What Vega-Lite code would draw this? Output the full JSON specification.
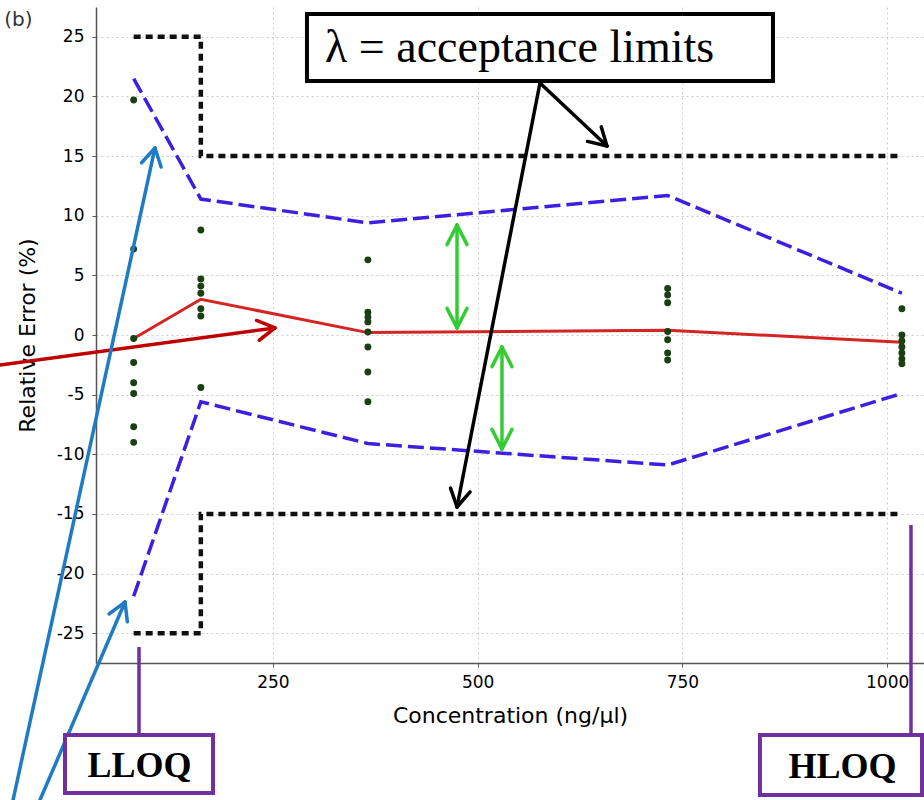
{
  "$schema": "https://vega.github.io/schema/vega-lite/v6.json",
  "width": 828,
  "height": 656,
  "autosize": {"type": "none"},
  "padding": {"left": 96, "top": 7, "right": 0, "bottom": 137},
  "background": "white",
  "config": {"view": {"stroke": null}},
  "datasets": {
    "points": [
      {"conc": 80, "err": 19.7}, {"conc": 80, "err": 7.2}, {"conc": 80, "err": -0.3}, {"conc": 80, "err": -2.3},
      {"conc": 80, "err": -4.0}, {"conc": 80, "err": -4.9}, {"conc": 80, "err": -7.7}, {"conc": 80, "err": -9.0},
      {"conc": 162, "err": 8.8}, {"conc": 162, "err": 4.7}, {"conc": 162, "err": 4.1}, {"conc": 162, "err": 3.5},
      {"conc": 162, "err": 2.2}, {"conc": 162, "err": 1.6}, {"conc": 162, "err": -4.4},
      {"conc": 366, "err": 6.3}, {"conc": 366, "err": 1.9}, {"conc": 366, "err": 1.5}, {"conc": 366, "err": 1.1},
      {"conc": 366, "err": 0.25}, {"conc": 366, "err": -1.0}, {"conc": 366, "err": -3.1}, {"conc": 366, "err": -5.6},
      {"conc": 732, "err": 3.9}, {"conc": 732, "err": 3.35}, {"conc": 732, "err": 2.7}, {"conc": 732, "err": 0.3},
      {"conc": 732, "err": -0.4}, {"conc": 732, "err": -1.5}, {"conc": 732, "err": -2.1},
      {"conc": 1018, "err": 2.2}, {"conc": 1018, "err": 0.0}, {"conc": 1018, "err": -0.5}, {"conc": 1018, "err": -1.0},
      {"conc": 1018, "err": -1.5}, {"conc": 1018, "err": -2.0}, {"conc": 1018, "err": -2.4}
    ],
    "profile": [
      {"conc": 80, "mean": -0.3, "lo": -21.9, "hi": 21.5, "lamLo": -25, "lamHi": 25},
      {"conc": 162, "mean": 3.0, "lo": -5.6, "hi": 11.4, "lamLo": -15, "lamHi": 15},
      {"conc": 366, "mean": 0.2, "lo": -9.1, "hi": 9.4, "lamLo": -15, "lamHi": 15},
      {"conc": 732, "mean": 0.4, "lo": -10.9, "hi": 11.7, "lamLo": -15, "lamHi": 15},
      {"conc": 1018, "mean": -0.6, "lo": -4.9, "hi": 3.5, "lamLo": -15, "lamHi": 15}
    ],
    "blackArrows": [
      {"x": 576.1, "y": 21.13, "x2": 657.9, "y2": 15.85},
      {"x": 657.9, "y": 15.85, "x2": 650.9, "y2": 17.45},
      {"x": 657.9, "y": 15.85, "x2": 634.1, "y2": 16.23},
      {"x": 576.1, "y": 21.13, "x2": 474.8, "y2": -14.42},
      {"x": 474.8, "y": -14.42, "x2": 490.8, "y2": -13.16},
      {"x": 474.8, "y": -14.42, "x2": 466.9, "y2": -12.84}
    ],
    "redArrows": [
      {"x": -83.2, "y": -2.52, "x2": 252.6, "y2": 0.59},
      {"x": 252.6, "y": 0.59, "x2": 230.0, "y2": 1.22},
      {"x": 252.6, "y": 0.59, "x2": 233.3, "y2": -0.44}
    ],
    "blueArrows": [
      {"x": -67.3, "y": -38.99, "x2": 106.0, "y2": 15.68},
      {"x": 106.0, "y": 15.68, "x2": 89.6, "y2": 14.44},
      {"x": 106.0, "y": 15.68, "x2": 113.5, "y2": 14.08},
      {"x": -34.4, "y": -38.99, "x2": 69.4, "y2": -22.39},
      {"x": 69.4, "y": -22.39, "x2": 49.9, "y2": -23.39},
      {"x": 69.4, "y": -22.39, "x2": 72.3, "y2": -24.05}
    ],
    "greenArrows": [
      {"x": 474.8, "y": 9.22, "x2": 474.8, "y2": 0.59},
      {"x": 474.8, "y": 9.22, "x2": 462.6, "y2": 7.58},
      {"x": 474.8, "y": 9.22, "x2": 487.0, "y2": 7.58},
      {"x": 474.8, "y": 0.59, "x2": 462.6, "y2": 2.23},
      {"x": 474.8, "y": 0.59, "x2": 487.0, "y2": 2.23},
      {"x": 529.7, "y": -1.01, "x2": 529.7, "y2": -9.56},
      {"x": 529.7, "y": -1.01, "x2": 517.5, "y2": -2.65},
      {"x": 529.7, "y": -1.01, "x2": 541.9, "y2": -2.65},
      {"x": 529.7, "y": -9.56, "x2": 517.5, "y2": -7.91},
      {"x": 529.7, "y": -9.56, "x2": 541.9, "y2": -7.91}
    ],
    "purpleLines": [
      {"x": 86.5, "y": -26.16, "x2": 86.5, "y2": -33.54},
      {"x": 1029.1, "y": -15.93, "x2": 1029.1, "y2": -33.54}
    ],
    "lambdaBox": [
      {"x": 291.6, "y": 26.91, "x2": 860.6, "y2": 21.30}
    ],
    "qBoxes": [
      {"x": -3.85, "y": -33.54, "x2": 176.9, "y2": -38.40},
      {"x": 844.7, "y": -33.54, "x2": 1042.6, "y2": -38.57}
    ],
    "serifLabel": [
      {"x": 313.6, "y": 22.89, "text": "λ = acceptance limits"}
    ],
    "boldLabels": [
      {"x": 87.1, "y": -37.06, "text": "LLOQ"},
      {"x": 945.5, "y": -37.14, "text": "HLOQ"}
    ],
    "panelLabel": [
      {"x": -78.0, "y": 25.9, "text": "(b)"}
    ]
  },
  "layer": [
    {
      "data": {"name": "profile"},
      "mark": {"type": "line", "interpolate": "step-after", "color": "#111111", "strokeWidth": 4.5, "strokeDash": [7, 5], "clip": false},
      "encoding": {
        "x": {
          "field": "conc", "type": "quantitative",
          "scale": {"domain": [34, 1045], "nice": false, "zero": false},
          "axis": {
            "values": [250, 500, 750, 1000],
            "labelExpr": "'' + datum.value",
            "title": "Concentration (ng/µl)",
            "grid": true, "gridColor": "#cccccc", "gridDash": [2, 3], "gridWidth": 1,
            "domainColor": "#555555", "domainWidth": 1.5,
            "tickColor": "#555555", "tickSize": 4,
            "labelFont": "DejaVu Sans", "labelFontSize": 17, "labelColor": "#000000", "labelPadding": 7, "labelFlush": false,
            "titleFont": "DejaVu Sans", "titleFontSize": 22, "titleFontWeight": "normal", "titleColor": "#000000", "titlePadding": 15
          }
        },
        "y": {
          "field": "lamHi", "type": "quantitative",
          "scale": {"domain": [-27.5, 27.5], "nice": false, "zero": false},
          "axis": {
            "values": [-25, -20, -15, -10, -5, 0, 5, 10, 15, 20, 25],
            "labelExpr": "datum.value < 0 ? '-' + abs(datum.value) : '' + datum.value",
            "title": "Relative Error (%)",
            "grid": true, "gridColor": "#cccccc", "gridDash": [2, 3], "gridWidth": 1,
            "domainColor": "#555555", "domainWidth": 1.5,
            "tickColor": "#555555", "tickSize": 4,
            "labelFont": "DejaVu Sans", "labelFontSize": 17, "labelColor": "#000000", "labelPadding": 8,
            "titleFont": "DejaVu Sans", "titleFontSize": 22, "titleFontWeight": "normal", "titleColor": "#000000", "titlePadding": 17
          }
        }
      }
    },
    {
      "data": {"name": "profile"},
      "mark": {"type": "line", "interpolate": "step-after", "color": "#111111", "strokeWidth": 4.5, "strokeDash": [7, 5], "clip": false},
      "encoding": {
        "x": {"field": "conc", "type": "quantitative", "title": "Concentration (ng/µl)"},
        "y": {"field": "lamLo", "type": "quantitative", "title": "Relative Error (%)"}
      }
    },
    {
      "data": {"name": "profile"},
      "mark": {"type": "line", "color": "#3d1fe0", "strokeWidth": 3.5, "strokeDash": [16, 6], "clip": false},
      "encoding": {
        "x": {"field": "conc", "type": "quantitative", "title": "Concentration (ng/µl)"},
        "y": {"field": "hi", "type": "quantitative", "title": "Relative Error (%)"}
      }
    },
    {
      "data": {"name": "profile"},
      "mark": {"type": "line", "color": "#3d1fe0", "strokeWidth": 3.5, "strokeDash": [16, 6], "clip": false},
      "encoding": {
        "x": {"field": "conc", "type": "quantitative", "title": "Concentration (ng/µl)"},
        "y": {"field": "lo", "type": "quantitative", "title": "Relative Error (%)"}
      }
    },
    {
      "data": {"name": "profile"},
      "mark": {"type": "line", "color": "#d42424", "strokeWidth": 3, "clip": false},
      "encoding": {
        "x": {"field": "conc", "type": "quantitative", "title": "Concentration (ng/µl)"},
        "y": {"field": "mean", "type": "quantitative", "title": "Relative Error (%)"}
      }
    },
    {
      "data": {"name": "points"},
      "mark": {"type": "point", "shape": "circle", "filled": true, "color": "#1a3f12", "size": 48, "opacity": 1, "clip": false},
      "encoding": {
        "x": {"field": "conc", "type": "quantitative", "title": "Concentration (ng/µl)"},
        "y": {"field": "err", "type": "quantitative", "title": "Relative Error (%)"}
      }
    },
    {
      "data": {"name": "blackArrows"},
      "mark": {"type": "rule", "color": "#000000", "strokeWidth": 3.5, "strokeCap": "round", "clip": false},
      "encoding": {
        "x": {"field": "x", "type": "quantitative", "title": "Concentration (ng/µl)"},
        "y": {"field": "y", "type": "quantitative", "title": "Relative Error (%)"},
        "x2": {"field": "x2"},
        "y2": {"field": "y2"}
      }
    },
    {
      "data": {"name": "redArrows"},
      "mark": {"type": "rule", "color": "#c00000", "strokeWidth": 3.5, "strokeCap": "round", "clip": false},
      "encoding": {
        "x": {"field": "x", "type": "quantitative", "title": "Concentration (ng/µl)"},
        "y": {"field": "y", "type": "quantitative", "title": "Relative Error (%)"},
        "x2": {"field": "x2"},
        "y2": {"field": "y2"}
      }
    },
    {
      "data": {"name": "blueArrows"},
      "mark": {"type": "rule", "color": "#1f7bc4", "strokeWidth": 3.5, "strokeCap": "round", "clip": false},
      "encoding": {
        "x": {"field": "x", "type": "quantitative", "title": "Concentration (ng/µl)"},
        "y": {"field": "y", "type": "quantitative", "title": "Relative Error (%)"},
        "x2": {"field": "x2"},
        "y2": {"field": "y2"}
      }
    },
    {
      "data": {"name": "greenArrows"},
      "mark": {"type": "rule", "color": "#33cc33", "strokeWidth": 3.5, "strokeCap": "round", "clip": false},
      "encoding": {
        "x": {"field": "x", "type": "quantitative", "title": "Concentration (ng/µl)"},
        "y": {"field": "y", "type": "quantitative", "title": "Relative Error (%)"},
        "x2": {"field": "x2"},
        "y2": {"field": "y2"}
      }
    },
    {
      "data": {"name": "purpleLines"},
      "mark": {"type": "rule", "color": "#7030a0", "strokeWidth": 3.5, "clip": false},
      "encoding": {
        "x": {"field": "x", "type": "quantitative", "title": "Concentration (ng/µl)"},
        "y": {"field": "y", "type": "quantitative", "title": "Relative Error (%)"},
        "x2": {"field": "x2"},
        "y2": {"field": "y2"}
      }
    },
    {
      "data": {"name": "lambdaBox"},
      "mark": {"type": "rect", "fill": "#ffffff", "stroke": "#000000", "strokeWidth": 4, "clip": false},
      "encoding": {
        "x": {"field": "x", "type": "quantitative", "title": "Concentration (ng/µl)"},
        "y": {"field": "y", "type": "quantitative", "title": "Relative Error (%)"},
        "x2": {"field": "x2"},
        "y2": {"field": "y2"}
      }
    },
    {
      "data": {"name": "qBoxes"},
      "mark": {"type": "rect", "fill": "#ffffff", "stroke": "#7030a0", "strokeWidth": 4, "clip": false},
      "encoding": {
        "x": {"field": "x", "type": "quantitative", "title": "Concentration (ng/µl)"},
        "y": {"field": "y", "type": "quantitative", "title": "Relative Error (%)"},
        "x2": {"field": "x2"},
        "y2": {"field": "y2"}
      }
    },
    {
      "data": {"name": "serifLabel"},
      "mark": {"type": "text", "font": "Liberation Serif", "fontSize": 46, "align": "left", "baseline": "alphabetic", "color": "#000000", "clip": false},
      "encoding": {
        "x": {"field": "x", "type": "quantitative", "title": "Concentration (ng/µl)"},
        "y": {"field": "y", "type": "quantitative", "title": "Relative Error (%)"},
        "text": {"field": "text"}
      }
    },
    {
      "data": {"name": "boldLabels"},
      "mark": {"type": "text", "font": "Liberation Serif", "fontSize": 36, "fontWeight": "bold", "align": "center", "baseline": "alphabetic", "color": "#000000", "clip": false},
      "encoding": {
        "x": {"field": "x", "type": "quantitative", "title": "Concentration (ng/µl)"},
        "y": {"field": "y", "type": "quantitative", "title": "Relative Error (%)"},
        "text": {"field": "text"}
      }
    },
    {
      "data": {"name": "panelLabel"},
      "mark": {"type": "text", "font": "DejaVu Sans", "fontSize": 20, "align": "left", "baseline": "alphabetic", "color": "#333333", "clip": false},
      "encoding": {
        "x": {"field": "x", "type": "quantitative", "title": "Concentration (ng/µl)"},
        "y": {"field": "y", "type": "quantitative", "title": "Relative Error (%)"},
        "text": {"field": "text"}
      }
    }
  ]
}
